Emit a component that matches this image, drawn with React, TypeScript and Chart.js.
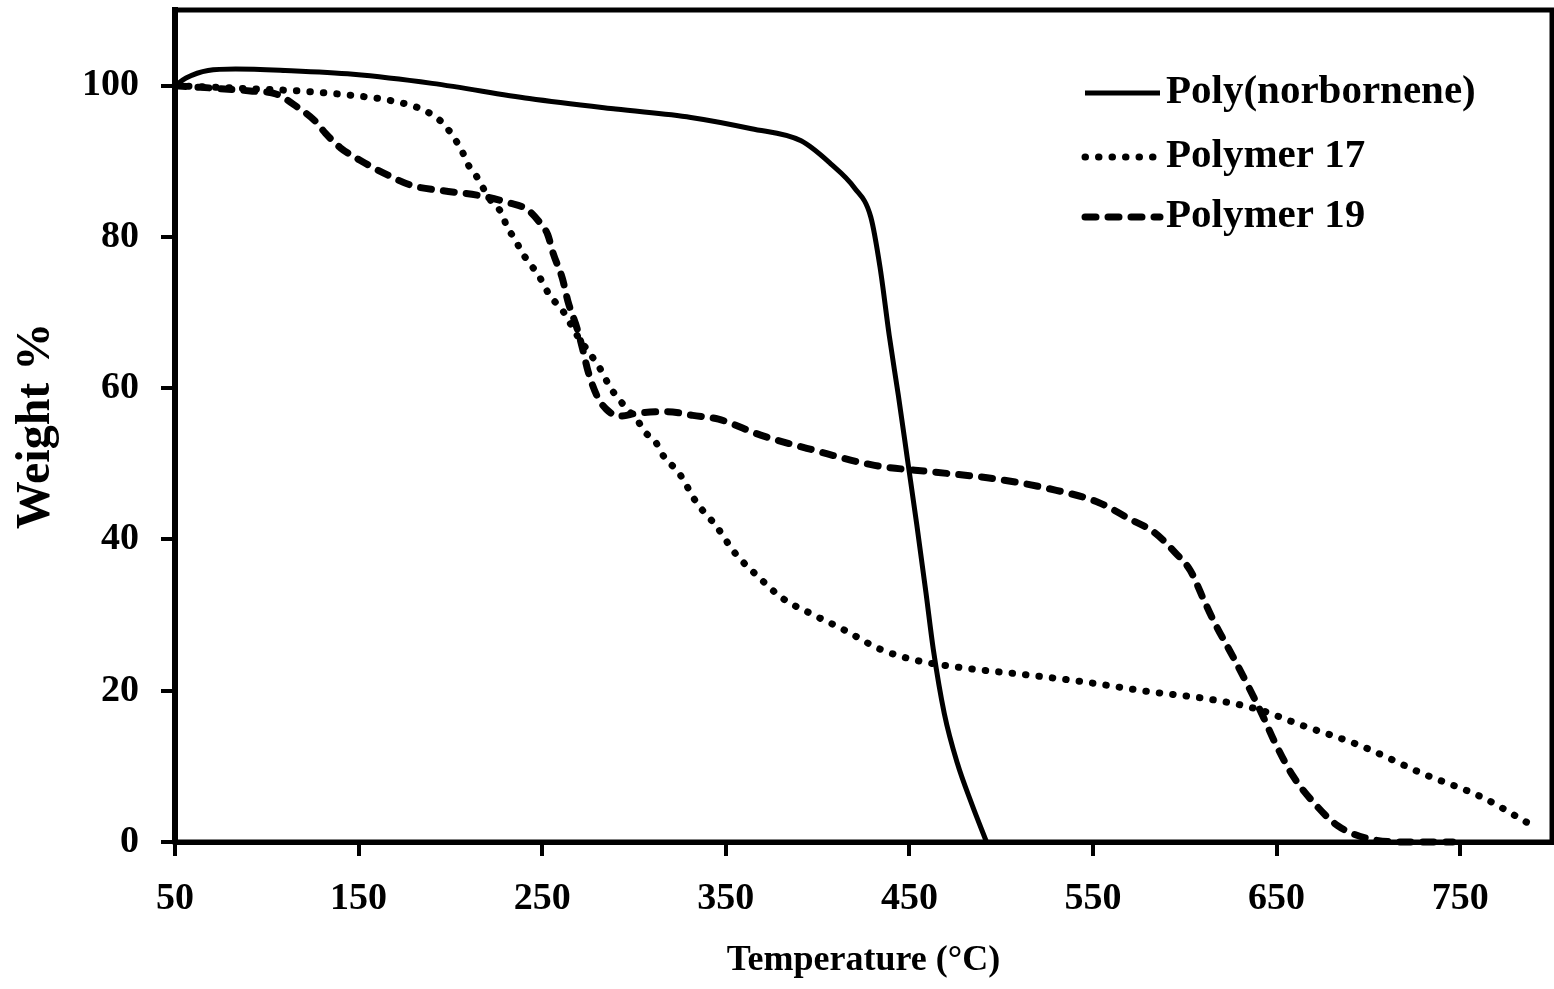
import React, { useEffect, useRef } from "react";
import { Chart, registerables } from "chart.js";

Chart.register(...registerables);

const FONT = "'Liberation Serif', 'DejaVu Serif', serif";

// Axis ticks
const xTickValues = [50, 150, 250, 350, 450, 550, 650, 750];
const yTickValues = [0, 20, 40, 60, 80, 100];

// Series labels
const seriesLabels = ["Poly(norbornene)", "Polymer 17", "Polymer 19"];

// Poly(norbornene) — solid
const norborneneTemp = [50, 56, 68, 83, 110, 147, 190, 243, 290, 331, 364, 391, 407, 420, 429, 434, 439, 444, 449, 454, 459, 463, 469, 476, 484, 492];
const norborneneWeight = [100, 101, 102, 102.2, 102, 101.5, 100.3, 98.3, 96.9, 95.8, 94.3, 92.7, 89.7, 86.5, 82.6, 76, 67, 59, 50.5, 42, 33, 25.5, 17, 10.5, 5, 0];

// Polymer 17 — dotted
const polymer17Temp = [50, 90, 117, 147, 168, 186, 196, 206, 210, 214, 218, 222, 228, 231, 235, 239, 243, 249, 254, 261, 269, 282, 287, 291, 296, 302, 306, 312, 315, 325, 334, 345, 355, 368, 381, 398, 414, 434, 454, 480, 514, 547, 580, 613, 639, 663, 696, 729, 762, 787];
const polymer17Weight = [100, 99.6, 99.3, 98.7, 98, 96.7, 95, 91.5, 89.4, 88.1, 86.4, 84.8, 83.1, 81.2, 79.8, 77.9, 76.6, 74.5, 72.3, 70.3, 67, 62.4, 60.1, 58.8, 57.3, 55.7, 54.2, 52.8, 51.4, 48.6, 44.9, 41.7, 38.2, 35, 32.2, 30, 28.1, 25.5, 24, 23, 22.1, 21.1, 19.9, 18.9, 17.6, 15.5, 12.7, 9.1, 5.9, 2.5];

// Polymer 19 — dashed
const polymer19Temp = [50, 91, 105, 117, 126, 132, 140, 151, 164, 179, 196, 215, 232, 242, 249, 253, 256, 261, 264, 269, 272, 275, 280, 285, 292, 302, 318, 332, 346, 369, 398, 431, 464, 497, 530, 553, 570, 583, 595, 603, 610, 616, 626, 636, 643, 649, 659, 671, 683, 699, 722, 746];
const polymer19Weight = [100, 99.3, 98.9, 97.1, 95.4, 93.7, 91.8, 90.1, 88.4, 86.8, 86.1, 85.5, 84.5, 83.6, 81.8, 80.3, 77.8, 74.5, 71.5, 67.9, 65.2, 62.2, 58.9, 57.2, 56.3, 56.7, 56.9, 56.4, 55.9, 53.8, 51.8, 49.8, 48.9, 48, 46.5, 44.9, 42.7, 41, 38.2, 35.9, 32.2, 29.1, 24.6, 19.9, 16.4, 13.2, 8.7, 5, 2.2, 0.5, 0, 0];

const toPoints = (xs: number[], ys: number[]) => xs.map((x, i) => ({ x, y: ys[i] }));

const framePlugin = {
  id: "frame",
  beforeDatasetsDraw(chart: any) {
    const { ctx, chartArea: a } = chart;
    ctx.save();
    ctx.strokeStyle = "#000";
    ctx.lineWidth = 5;
    ctx.strokeRect(a.left, a.top, a.right - a.left, a.bottom - a.top);
    ctx.restore();
  },
};

const legendPlugin = {
  id: "insetLegend",
  afterDatasetsDraw(chart: any, _args: any, opts: any) {
    const ctx = chart.ctx;
    chart.data.datasets.forEach((ds: any, i: number) => {
      const base = opts.baselines[i];
      const ly = opts.lineYs[i];
      ctx.save();
      ctx.strokeStyle = ds.borderColor;
      ctx.lineWidth = ds.borderWidth;
      ctx.lineCap = ds.borderCapStyle || "butt";
      ctx.setLineDash(ds.borderDash || []);
      ctx.beginPath();
      ctx.moveTo(opts.lineX0, ly);
      ctx.lineTo(opts.lineX1, ly);
      ctx.stroke();
      ctx.setLineDash([]);
      ctx.fillStyle = "#000";
      ctx.font = `bold ${opts.fontSize}px ${FONT}`;
      ctx.textBaseline = "alphabetic";
      ctx.textAlign = "left";
      ctx.fillText(ds.label, opts.textX, base);
      ctx.restore();
    });
  },
};

const zeroPadding = (scale: any) => {
  scale.paddingTop = 0;
  scale.paddingBottom = 0;
  scale.paddingLeft = 0;
  scale.paddingRight = 0;
};

export default function App() {
  const canvasRef = useRef<HTMLCanvasElement | null>(null);

  useEffect(() => {
    if (!canvasRef.current) return;
    const chart = new Chart(canvasRef.current, {
      type: "line",
      data: {
        datasets: [
          {
            label: seriesLabels[0],
            data: toPoints(norborneneTemp, norborneneWeight),
            borderColor: "#000",
            borderWidth: 5,
            pointRadius: 0,
            cubicInterpolationMode: "monotone",
            clip: false,
          },
          {
            label: seriesLabels[1],
            data: toPoints(polymer17Temp, polymer17Weight),
            borderColor: "#000",
            borderWidth: 7,
            borderDash: [0.5, 13],
            borderCapStyle: "round",
            pointRadius: 0,
            cubicInterpolationMode: "monotone",
            clip: false,
          },
          {
            label: seriesLabels[2],
            data: toPoints(polymer19Temp, polymer19Weight),
            borderColor: "#000",
            borderWidth: 7,
            borderDash: [11, 12],
            borderCapStyle: "round",
            pointRadius: 0,
            cubicInterpolationMode: "monotone",
            clip: false,
          },
        ] as any,
      },
      options: {
        animation: false,
        responsive: false,
        devicePixelRatio: 1,
        layout: { padding: { left: 0, top: 10, right: 2, bottom: 0 } },
        plugins: {
          legend: { display: false },
          tooltip: { enabled: false },
          insetLegend: {
            lineX0: 1085,
            lineX1: 1160,
            textX: 1166,
            fontSize: 41,
            baselines: [103, 167, 227],
            lineYs: [93, 157, 217],
          },
        } as any,
        scales: {
          x: {
            type: "linear",
            min: 50,
            max: 800,
            afterBuildTicks: (scale: any) => {
              scale.ticks = xTickValues.map((value) => ({ value }));
            },
            afterFit: (scale: any) => {
              scale.height = 147;
              zeroPadding(scale);
            },
            grid: {
              display: true,
              drawOnChartArea: false,
              drawTicks: true,
              tickLength: 14,
              lineWidth: 4,
              color: "#000",
            },
            border: { display: true, color: "#000", width: 5 },
            ticks: {
              color: "#000",
              font: { family: FONT, weight: "bold", size: 38 },
              padding: 20,
              autoSkip: false,
              maxRotation: 0,
            },
            title: {
              display: true,
              text: "Temperature (°C)",
              color: "#000",
              font: { family: FONT, weight: "bold", size: 36 },
              padding: { top: 0, bottom: 7 },
            },
          },
          y: {
            type: "linear",
            min: 0,
            max: 110,
            afterBuildTicks: (scale: any) => {
              scale.ticks = yTickValues.map((value) => ({ value }));
            },
            afterFit: (scale: any) => {
              scale.width = 175;
              zeroPadding(scale);
            },
            grid: {
              display: true,
              drawOnChartArea: false,
              drawTicks: true,
              tickLength: 14,
              lineWidth: 4,
              color: "#000",
            },
            border: { display: true, color: "#000", width: 6 },
            ticks: {
              color: "#000",
              font: { family: FONT, weight: "bold", size: 38 },
              padding: 22,
            },
            title: {
              display: true,
              text: "Weight %",
              color: "#000",
              font: { family: FONT, weight: "bold", size: 48 },
              padding: { top: 8, bottom: 0 },
            },
          },
        },
      } as any,
      plugins: [framePlugin, legendPlugin],
    });
    return () => chart.destroy();
  }, []);

  return (
    <div style={{ position: "fixed", left: 0, top: 0, width: 1554, height: 989, background: "#fff" }}>
      <canvas ref={canvasRef} width={1554} height={989} style={{ width: 1554, height: 989, display: "block" }} />
    </div>
  );
}
